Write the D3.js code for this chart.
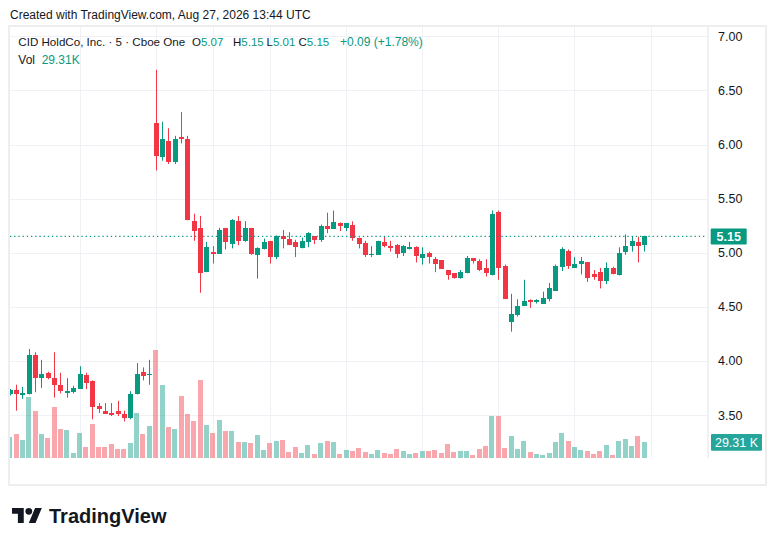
<!DOCTYPE html>
<html>
<head>
<meta charset="utf-8">
<script src="https://cdn.jsdelivr.net/npm/d3@7"></script>
<style>
  html, body { margin: 0; padding: 0; background: #ffffff; }
  svg { display: block; font-family: "Liberation Sans", Arial, sans-serif; }
</style>
</head>
<body>
<div id="chart-area"></div>
<script>
// 5 minute bars, Aug 25 18:05 .. 19:55 then Aug 26 13:30 .. 19:55 (UTC)
let opens = [
  3.69, 3.73, 3.69, 3.69, 4.05, 3.84, 3.89, 3.84, 3.78, 3.71, 3.71, 3.74,
  3.87, 3.81, 3.58, 3.54, 3.52, 3.54, 3.51, 3.47, 3.69, 3.90, 3.87,
  6.20, 5.88, 6.03, 5.84, 6.07, 6.05, 5.29, 5.23, 4.82, 5.01, 4.99, 5.23,
  5.08, 5.29, 5.11, 5.23, 4.98, 5.03, 5.11, 4.96, 5.15, 5.13, 5.10, 5.04,
  5.10, 5.15, 5.12, 5.25, 5.22, 5.27, 5.23, 5.26, 5.14, 5.09, 4.98, 4.98,
  5.10, 5.06, 5.07, 5.00, 5.05, 5.05, 4.95, 5.00, 4.94, 4.93, 4.84, 4.81,
  4.77, 4.81, 4.95, 4.92, 4.86, 4.79, 5.38, 4.88, 4.36, 4.42, 4.51, 4.56,
  4.55, 4.53, 4.57, 4.65, 4.87, 5.02, 4.86, 4.90, 4.91, 4.80, 4.82, 4.74,
  4.86, 4.79, 5.01, 5.06, 5.10, 5.07
];
let highs = [
  3.74, 3.78, 3.76, 4.11, 4.08, 4.01, 3.90, 4.08, 3.89, 3.84, 3.77, 3.95,
  3.89, 3.82, 3.61, 3.61, 3.61, 3.63, 3.54, 3.72, 3.98, 3.94, 4.01,
  6.69, 6.21, 6.15, 6.08, 6.30, 6.08, 5.36, 5.34, 5.10, 5.06, 5.23, 5.23,
  5.31, 5.34, 5.29, 5.23, 5.05, 5.13, 5.11, 5.16, 5.21, 5.19, 5.12, 5.14,
  5.19, 5.15, 5.26, 5.37, 5.39, 5.28, 5.27, 5.29, 5.14, 5.11, 5.06, 5.11,
  5.15, 5.11, 5.08, 5.07, 5.10, 5.06, 5.05, 5.01, 4.96, 4.93, 4.84, 4.81,
  4.84, 4.97, 4.95, 4.94, 4.94, 5.39, 5.39, 4.89, 4.62, 4.57, 4.75, 4.57,
  4.57, 4.64, 4.72, 4.89, 5.05, 5.03, 4.96, 4.96, 4.91, 4.84, 4.86, 4.91,
  4.87, 5.05, 5.17, 5.15, 5.15, 5.15
];
let lows = [
  3.68, 3.54, 3.65, 3.69, 3.71, 3.75, 3.83, 3.66, 3.70, 3.66, 3.70, 3.74,
  3.74, 3.46, 3.52, 3.51, 3.49, 3.49, 3.44, 3.46, 3.69, 3.82, 3.78,
  5.76, 5.85, 5.82, 5.82, 6.01, 5.30, 5.11, 4.63, 4.82, 4.90, 4.99, 5.03,
  5.04, 5.07, 5.10, 4.98, 4.76, 5.03, 4.90, 4.94, 5.04, 5.07, 4.96, 5.04,
  5.05, 5.08, 5.10, 5.18, 5.22, 5.20, 5.20, 5.11, 5.04, 4.96, 4.96, 4.98,
  5.05, 5.01, 4.95, 4.97, 5.03, 4.91, 4.89, 4.90, 4.82, 4.85, 4.75, 4.76,
  4.76, 4.81, 4.90, 4.83, 4.78, 4.79, 4.75, 4.57, 4.27, 4.41, 4.51, 4.49,
  4.53, 4.53, 4.55, 4.65, 4.83, 4.85, 4.86, 4.80, 4.73, 4.75, 4.67, 4.71,
  4.80, 4.79, 4.98, 5.01, 4.91, 5.01
];
let closes = [
  3.73, 3.69, 3.70, 4.05, 3.84, 3.88, 3.84, 3.78, 3.72, 3.72, 3.75, 3.88,
  3.80, 3.57, 3.56, 3.51, 3.50, 3.51, 3.47, 3.69, 3.88, 3.86, 3.88,
  5.89, 6.05, 5.84, 6.05, 6.05, 5.30, 5.20, 4.81, 5.05, 4.99, 5.21, 5.10,
  5.30, 5.11, 5.23, 4.99, 5.04, 5.10, 4.96, 5.15, 5.13, 5.07, 5.05, 5.11,
  5.18, 5.12, 5.25, 5.22, 5.28, 5.25, 5.27, 5.14, 5.08, 4.98, 4.99, 5.11,
  5.06, 5.04, 4.99, 5.06, 5.05, 4.97, 4.99, 4.96, 4.90, 4.85, 4.79, 4.77,
  4.82, 4.95, 4.92, 4.84, 4.81, 5.36, 4.86, 4.57, 4.43, 4.51, 4.55, 4.54,
  4.56, 4.58, 4.67, 4.88, 5.03, 4.88, 4.90, 4.92, 4.77, 4.78, 4.74, 4.86,
  4.80, 5.00, 5.06, 5.11, 5.06, 5.15
];
// volume in thousands
let volumes = [
  39.2, 44.8, 33.6, 113.3, 87.7, 44.8, 37.3, 95.2, 54.1, 52.3, 9.3, 46.7,
  20.5, 63.5, 20.5, 20.5, 26.1, 16.8, 16.8, 28.0, 84.0, 44.8, 59.7,
  201.6, 136.3, 57.9, 54.1, 115.8, 82.1, 69.1, 145.6, 61.6, 46.7, 70.9, 50.4,
  50.4, 29.9, 29.9, 28.0, 42.9, 14.9, 28.0, 31.7, 33.6, 11.2, 20.5, 9.3,
  24.3, 7.5, 28.0, 31.7, 29.9, 6.9, 14.4, 12.5, 18.1, 10.6, 6.9, 14.4,
  8.8, 6.9, 16.2, 12.5, 6.9, 8.8, 12.5, 12.5, 14.4, 8.8, 25.6, 10.6,
  12.5, 12.5, 5.0, 16.2, 21.8, 77.9, 77.9, 18.1, 40.5, 16.2, 31.2, 10.6,
  6.9, 5.0, 8.8, 29.3, 46.1, 31.2, 20.0, 14.4, 12.5, 6.9, 12.5, 23.7,
  5.0, 31.2, 34.9, 21.8, 40.5, 29.31
];

let priceTicks = [3.5, 4.0, 4.5, 5.0, 5.5, 6.0, 6.5, 7.0];
let tickSlots = ["25 19:00", "26 13:30", "26 14:15", "26 15:00", "26 16:00",
                 "26 17:00", "26 18:00", "26 19:00", "27 13:30", "27 14:15"];
let tickText = ["19:00", "26", "14:15", "15:00", "16:00", "17:00", "18:00", "19:00", "27", "14:15"];

// time slots (bars plus a few empty future slots on the 27th)
function session(day, fromMin, toMin) {
  let out = [];
  for (let m = fromMin; m <= toMin; m += 5) {
    let hh = String(Math.floor(m / 60)).padStart(2, "0");
    let mm = String(m % 60).padStart(2, "0");
    out.push(day + " " + hh + ":" + mm);
  }
  return out;
}
let slots = session("25", 18 * 60 + 5, 19 * 60 + 55)
  .concat(session("26", 13 * 60 + 30, 19 * 60 + 55))
  .concat(session("27", 13 * 60 + 30, 14 * 60 + 20));

let data = closes.map(function(c, i) {
  return { t: slots[i], o: opens[i], h: highs[i], l: lows[i], c: c, v: volumes[i] };
});

let upColor = "#089981", downColor = "#f23645";
let textColor = "#131722", gridColor = "#f0f1f4";

let width = 776, height = 546;
let plot = { left: 10, right: 707, top: 27, bottom: 458 };
let step = 6.346;

let svg = d3.select("#chart-area")
  .append("svg")
  .attr("width", width)
  .attr("height", height);

svg.append("rect").attr("width", width).attr("height", height).attr("fill", "#fff");

let x = d3.scalePoint()
  .domain(slots)
  .range([9.7, 9.7 + (slots.length - 1) * step]);

let y = d3.scaleLinear().domain([3.5, 7.0]).range([415, 36.3]);

let yVol = d3.scaleLinear()
  .domain([0, d3.max(volumes)])
  .range([plot.bottom, 350]);

let defs = svg.append("defs");
defs.append("clipPath").attr("id", "plot-clip")
  .append("rect")
  .attr("x", plot.left).attr("y", plot.top)
  .attr("width", plot.right - plot.left).attr("height", plot.bottom - plot.top);
defs.append("clipPath").attr("id", "time-clip")
  .append("rect")
  .attr("x", plot.left).attr("y", plot.bottom)
  .attr("width", 708 - plot.left).attr("height", 28);

// ---- grid ----
let grid = svg.append("g").attr("class", "grid");
grid.selectAll(".hgrid")
  .data(priceTicks)
  .enter()
  .append("line")
  .attr("x1", plot.left).attr("x2", plot.right)
  .attr("y1", function(d) { return Math.round(y(d)) + 0.5; })
  .attr("y2", function(d) { return Math.round(y(d)) + 0.5; })
  .attr("stroke", gridColor);
grid.selectAll(".vgrid")
  .data(tickSlots)
  .enter()
  .append("line")
  .attr("x1", function(d) { return Math.round(x(d)) + 0.5; })
  .attr("x2", function(d) { return Math.round(x(d)) + 0.5; })
  .attr("y1", plot.top).attr("y2", plot.bottom)
  .attr("stroke", gridColor);

// price axis separator
svg.append("line")
  .attr("x1", plot.right + 0.5).attr("x2", plot.right + 0.5)
  .attr("y1", plot.top).attr("y2", plot.bottom)
  .attr("stroke", gridColor);

let plotArea = svg.append("g").attr("clip-path", "url(#plot-clip)");

// ---- volume ----
plotArea.selectAll(".vol")
  .data(data)
  .enter()
  .append("rect")
  .attr("class", "vol")
  .attr("x", function(d) { return x(d.t) - 2.5; })
  .attr("width", 5)
  .attr("y", function(d) { return yVol(d.v); })
  .attr("height", function(d) { return plot.bottom - yVol(d.v); })
  .attr("fill", function(d) { return d.c >= d.o ? upColor : downColor; })
  .attr("fill-opacity", 0.44)
  .attr("shape-rendering", "crispEdges");

// ---- candles ----
let candles = plotArea.selectAll(".candle")
  .data(data)
  .enter()
  .append("g")
  .attr("class", "candle");

candles.append("line")
  .attr("x1", function(d) { return Math.round(x(d.t)) + 0.5; })
  .attr("x2", function(d) { return Math.round(x(d.t)) + 0.5; })
  .attr("y1", function(d) { return y(d.h); })
  .attr("y2", function(d) { return y(d.l); })
  .attr("stroke", function(d) { return d.c >= d.o ? upColor : downColor; })
  .attr("stroke-width", 1);

candles.append("rect")
  .attr("x", function(d) { return Math.round(x(d.t)) - 2; })
  .attr("width", 5)
  .attr("y", function(d) { return y(Math.max(d.o, d.c)); })
  .attr("height", function(d) { return Math.max(1.5, Math.abs(y(d.o) - y(d.c))); })
  .attr("fill", function(d) { return d.c >= d.o ? upColor : downColor; })
  .attr("shape-rendering", "crispEdges");

let last = data[data.length - 1];

// last price dotted line
svg.append("line")
  .attr("x1", plot.left).attr("x2", plot.right)
  .attr("y1", y(last.c)).attr("y2", y(last.c))
  .attr("stroke", upColor)
  .attr("stroke-width", 1.2)
  .attr("stroke-dasharray", "1.3,2.9");

// ---- axes ----
let yAxis = d3.axisRight(y)
  .tickValues(priceTicks)
  .tickFormat(d3.format(".2f"))
  .tickSize(0)
  .tickPadding(11);
let yAxisGroup = svg.append("g")
  .attr("class", "y-axis")
  .attr("transform", "translate(" + plot.right + ",0)")
  .call(yAxis);
yAxisGroup.select(".domain").remove();
yAxisGroup.selectAll("text")
  .attr("fill", textColor)
  .style("font-size", "12.5px")
  .style("font-family", "'Liberation Sans', Arial, sans-serif");

let xAxis = d3.axisBottom(x)
  .tickValues(tickSlots)
  .tickFormat(function(d, i) { return tickText[i]; })
  .tickSize(0)
  .tickPadding(9.5);
let xAxisGroup = svg.append("g")
  .attr("class", "x-axis")
  .attr("clip-path", "url(#time-clip)")
  .attr("transform", "translate(0," + plot.bottom + ")")
  .call(xAxis);
xAxisGroup.select(".domain").remove();
xAxisGroup.selectAll("text")
  .attr("fill", textColor)
  .style("font-size", "12px")
  .style("font-family", "'Liberation Sans', Arial, sans-serif")
  .style("font-weight", function(d, i) { return tickText[i].length <= 2 ? "bold" : "normal"; });

// last price label
let priceLabel = svg.append("g")
  .attr("transform", "translate(710.7," + y(last.c) + ")");
priceLabel.append("rect")
  .attr("x", 0).attr("y", -8).attr("width", 36).attr("height", 16)
  .attr("rx", 1)
  .attr("fill", upColor);
priceLabel.append("text")
  .attr("x", 18).attr("y", 4.5)
  .attr("text-anchor", "middle")
  .attr("fill", "#fff")
  .style("font-size", "12.5px")
  .style("font-weight", "bold")
  .text(d3.format(".2f")(last.c));

// last volume label
let volLabel = svg.append("g")
  .attr("transform", "translate(711," + yVol(last.v) + ")");
volLabel.append("rect")
  .attr("x", 0).attr("y", -8.3).attr("width", 51).attr("height", 16.7)
  .attr("rx", 1)
  .attr("fill", "#26a69a");
volLabel.append("text")
  .attr("x", 25.5).attr("y", 4.5)
  .attr("text-anchor", "middle")
  .attr("fill", "#fff")
  .style("font-size", "12.5px")
  .text(d3.format(".2f")(last.v) + " K");

// ---- legend ----
let prevClose = closes[closes.length - 2];
let chg = last.c - prevClose;
let fmt = d3.format(".2f");
let legend = svg.append("text")
  .attr("y", 45.5)
  .attr("fill", textColor)
  .style("font-size", "11.5px");
legend.append("tspan").attr("x", 18.3)
  .style("font-size", "11.6px")
  .text("CID HoldCo, Inc. \u00b7 5 \u00b7 Cboe One");
[["O", last.o, 192], ["H", last.h, 233], ["L", last.l, 266.5], ["C", last.c, 298.5]].forEach(function(p) {
  legend.append("tspan").attr("x", p[2]).text(p[0]);
  legend.append("tspan").attr("fill", upColor).text(fmt(p[1]));
});
legend.append("tspan").attr("x", 340).attr("fill", upColor)
  .style("font-size", "12px")
  .text("+" + fmt(chg) + " (+" + fmt(chg / prevClose * 100) + "%)");

let volLegend = svg.append("text")
  .attr("y", 63.5)
  .attr("fill", textColor)
  .style("font-size", "12px");
volLegend.append("tspan").attr("x", 18.3).text("Vol");
volLegend.append("tspan").attr("x", 41.7).attr("fill", upColor).text(fmt(last.v) + "K");

// header
svg.append("text")
  .attr("x", 10).attr("y", 19)
  .attr("fill", textColor)
  .style("font-size", "12px")
  .text("Created with TradingView.com, Aug 27, 2026 13:44 UTC");

// frame
svg.append("rect")
  .attr("x", 9).attr("y", 26)
  .attr("width", 757).attr("height", 459)
  .attr("fill", "none")
  .attr("stroke", "#eeeeee")
  .attr("stroke-width", 2);

// TradingView logo
let logo = svg.append("g").attr("transform", "translate(12,504.6) scale(0.84)");
logo.append("path")
  .attr("d", "M14 22H7V11H0V4h14v18zM28 22h-8l7.5-18h8L28 22z")
  .attr("fill", textColor);
logo.append("circle").attr("cx", 20).attr("cy", 8).attr("r", 4).attr("fill", textColor);
svg.append("text")
  .attr("x", 49).attr("y", 522.5)
  .attr("fill", textColor)
  .style("font-size", "20px")
  .style("font-weight", "bold")
  .text("TradingView");
</script>
</body>
</html>
